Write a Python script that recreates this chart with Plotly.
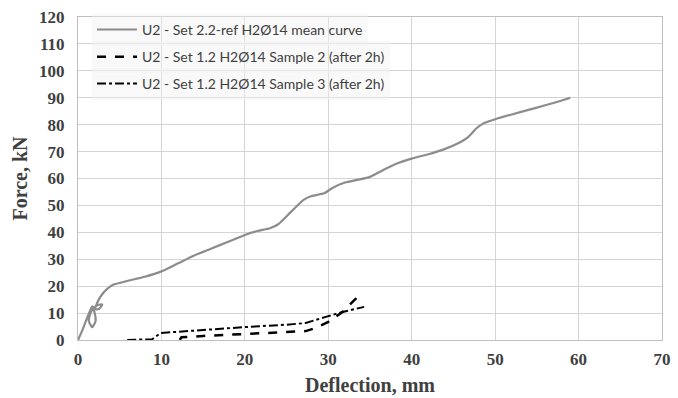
import plotly.graph_objects as go

# Mean curve (U2 - Set 2.2-ref)
mean_x = [0, 0.5, 1.0, 1.4, 1.7, 2.0, 2.1, 1.7, 1.3, 1.5, 1.9, 2.4, 2.9, 2.5, 2.1, 2.4, 2.9, 3.5, 4.2,
          6, 8, 10, 12, 14, 16, 18, 20, 21.5, 23, 24, 25.5, 27, 28, 29.5, 30.5, 32, 33.5, 35, 36.5, 38, 40,
          42, 44, 45.5, 46.8, 47.7, 48.5, 50, 52, 54, 56, 58, 59]
mean_y = [0, 3.5, 7.5, 10.5, 12.5, 10, 7, 4.8, 7, 10, 12, 13, 13.2, 11.5, 11.5, 14.5, 17, 19, 20.5,
          22, 23.5, 25.5, 28.5, 31.5, 34, 36.5, 39, 40.5, 41.5, 43, 47.5, 52, 53.5, 54.5, 56.5, 58.5, 59.5, 60.6, 63, 65.3, 67.4,
          69, 71, 73, 75.5, 78.5, 80.3, 82, 83.8, 85.5, 87.2, 89, 90]

# Sample 2 (after 2h)
s2_x = [12.2, 12.4, 15, 20, 25, 27.3, 28.5, 30, 31.7, 33.9]
s2_y = [0, 1.0, 1.5, 2.2, 3.0, 3.3, 4.5, 6.7, 10.4, 17.2]

# Sample 3 (after 2h)
s3_x = [5.9, 8.9, 9.9, 15, 20, 25, 27.3, 29.7, 31.7, 34.3]
s3_y = [0, 0.3, 2.6, 3.8, 4.8, 5.7, 6.3, 8.6, 10.4, 12.3]

x_ticks = [0, 10, 20, 30, 40, 50, 60, 70]
y_ticks = [0, 10, 20, 30, 40, 50, 60, 70, 80, 90, 100, 110, 120]

names = ["U2 - Set 2.2-ref H2Ø14 mean curve",
         "U2 - Set 1.2 H2Ø14 Sample 2 (after 2h)",
         "U2 - Set 1.2 H2Ø14 Sample 3 (after 2h)"]

fig = go.Figure()
fig.add_trace(go.Scatter(x=mean_x, y=mean_y, mode="lines", name=names[0], legend="legend",
                         showlegend=True,
                         line=dict(color="#8c8c8c", width=2.2, shape="spline", smoothing=0.6)))
fig.add_trace(go.Scatter(x=s2_x, y=s2_y, mode="lines", name=names[1], legend="legend2",
                         showlegend=True,
                         line=dict(color="#000000", width=2.5, dash="dash")))
fig.add_trace(go.Scatter(x=s3_x, y=s3_y, mode="lines", name=names[2], legend="legend3",
                         showlegend=True,
                         line=dict(color="#000000", width=2, dash="dashdot")))

axis_font = dict(family="Liberation Serif", size=17, color="#404040")
title_font = dict(family="Liberation Serif", size=20, color="#404040")
leg_font = dict(family="Lato", size=14, color="#404040")


def leg(yv):
    return dict(x=0.024, y=yv, xanchor="left", yanchor="middle",
                bgcolor="rgba(242,242,242,0.45)", font=leg_font, itemwidth=40)


fig.update_layout(
    width=678, height=398,
    margin=dict(l=78, r=16, t=17, b=58),
    paper_bgcolor="white", plot_bgcolor="white",
    showlegend=True,
    legend=leg(0.96), legend2=leg(0.876), legend3=leg(0.793),
    xaxis=dict(range=[0, 70], tickvals=x_ticks, ticktext=[f"<b>{v}</b>" for v in x_ticks],
               tickfont=axis_font, showgrid=True, gridcolor="#d4d4d4", gridwidth=1.3,
               showline=True, linecolor="#bfbfbf", linewidth=1.3, mirror=True,
               zeroline=False, ticks="", automargin=False, ticklabelstandoff=3,
               title=dict(text="<b>Deflection, mm</b>", font=title_font, standoff=10)),
    yaxis=dict(range=[0, 120], tickvals=y_ticks, ticktext=[f"<b>{v}</b>" for v in y_ticks],
               tickfont=axis_font, showgrid=True, gridcolor="#d4d4d4", gridwidth=1.3,
               showline=True, linecolor="#bfbfbf", linewidth=1.3, mirror=True,
               zeroline=False, ticks="", automargin=False, ticklabelstandoff=9,
               title=dict(text="<b>Force, kN</b>", font=title_font, standoff=5)),
)

fig.write_html("out.html", post_script="document.body.style.margin='0';",
               config={"displayModeBar": False})
